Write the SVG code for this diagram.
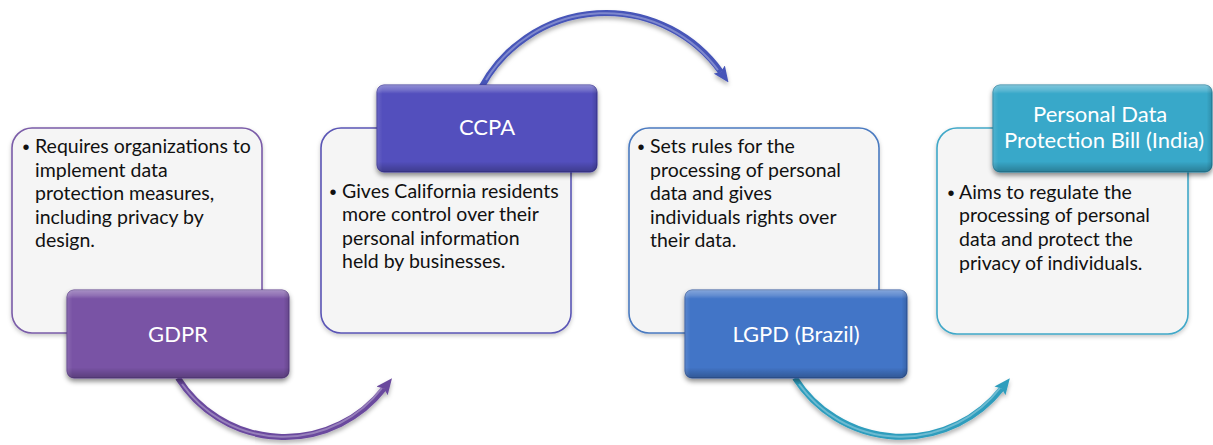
<svg xmlns="http://www.w3.org/2000/svg" width="1213" height="445" viewBox="0 0 1213 445">
  <defs>
    <style>
      .card { fill: #f5f5f5; stroke-width: 1.6; filter: url(#softShadow); }
      .body { font-family: Lato, "Liberation Sans", sans-serif; font-size: 19.5px; fill: #111111; }
      .bullet { font-family: "Liberation Sans", sans-serif; font-size: 20px; fill: #111111; text-anchor: middle; }
      .tag { stroke-width: 1; filter: url(#tagShadow); }
      .tagText { font-family: Lato, "Liberation Sans", sans-serif; font-size: 22px; fill: #ffffff; text-anchor: middle; }
      .bevelV { fill: url(#bevelV); }
      .bevelH { fill: url(#bevelH); }
      .arc { fill: none; stroke-width: 6; filter: url(#arcShadow); }
      .arcHi { fill: none; stroke-width: 2; stroke: #ffffff; stroke-opacity: 0.3; }
    </style>

    <filter id="softShadow" x="-10%" y="-10%" width="120%" height="125%">
      <feDropShadow dx="0" dy="2" stdDeviation="2" flood-color="#000000" flood-opacity="0.22"/>
    </filter>
    <filter id="tagShadow" x="-10%" y="-15%" width="120%" height="140%">
      <feDropShadow dx="0" dy="3" stdDeviation="2.5" flood-color="#000000" flood-opacity="0.45"/>
    </filter>
    <filter id="arcShadow" x="-20%" y="-30%" width="140%" height="160%">
      <feDropShadow dx="0" dy="3" stdDeviation="2" flood-color="#000000" flood-opacity="0.3"/>
    </filter>

    <!-- bevel overlays shared by all tag boxes -->
    <linearGradient id="bevelV" x1="0" y1="0" x2="0" y2="1">
      <stop offset="0" stop-color="#ffffff" stop-opacity="0.35"/>
      <stop offset="0.06" stop-color="#ffffff" stop-opacity="0.18"/>
      <stop offset="0.1" stop-color="#ffffff" stop-opacity="0"/>
      <stop offset="0.88" stop-color="#000000" stop-opacity="0"/>
      <stop offset="0.95" stop-color="#000000" stop-opacity="0.15"/>
      <stop offset="1" stop-color="#000000" stop-opacity="0.25"/>
    </linearGradient>
    <linearGradient id="bevelH" x1="0" y1="0" x2="1" y2="0">
      <stop offset="0" stop-color="#ffffff" stop-opacity="0.12"/>
      <stop offset="0.025" stop-color="#ffffff" stop-opacity="0"/>
      <stop offset="0.975" stop-color="#000000" stop-opacity="0"/>
      <stop offset="1" stop-color="#000000" stop-opacity="0.15"/>
    </linearGradient>

    <marker id="headPurple" markerUnits="userSpaceOnUse" viewBox="0 0 16 14" markerWidth="16" markerHeight="14" refX="3" refY="7" orient="auto">
      <path d="M0,0 L16,7 L0,14 L3,7 Z" fill="#6b4a9e"/>
    </marker>
    <marker id="headIndigo" markerUnits="userSpaceOnUse" viewBox="0 0 16 14" markerWidth="16" markerHeight="14" refX="3" refY="7" orient="auto">
      <path d="M0,0 L16,7 L0,14 L3,7 Z" fill="#4655b8"/>
    </marker>
    <marker id="headTeal" markerUnits="userSpaceOnUse" viewBox="0 0 16 14" markerWidth="16" markerHeight="14" refX="3" refY="7" orient="auto">
      <path d="M0,0 L16,7 L0,14 L3,7 Z" fill="#2e9dbd"/>
    </marker>
  </defs>

  <!-- curved arrows linking the steps -->
  <g id="connectors">
    <path class="arc" d="M178,378 A126,126 0 0 0 384,388.5" stroke="#6b4a9e" marker-end="url(#headPurple)"/>
    <path class="arcHi" d="M182,384 A124,124 0 0 0 382,388"/>

    <path class="arc" d="M481.6,87 A141.5,141.5 0 0 1 720.9,71.9" stroke="#4655b8" marker-end="url(#headIndigo)"/>
    <path class="arcHi" d="M486,80 A140,140 0 0 1 718,70"/>

    <path class="arc" d="M795,378 A127,127 0 0 0 1001.8,388.5" stroke="#2e9dbd" marker-end="url(#headTeal)"/>
    <path class="arcHi" d="M799,384 A125,125 0 0 0 1000,388"/>
  </g>

  <!-- GDPR -->
  <g id="node-gdpr">
    <rect class="card" x="12" y="128" width="250" height="205" rx="20" stroke="#7a5ca8"/>
    <text class="bullet" x="26" y="154">•</text>
    <text class="body">
      <tspan x="35" y="153">Requires organizations to</tspan>
      <tspan x="35" y="177">implement data</tspan>
      <tspan x="35" y="200">protection measures,</tspan>
      <tspan x="35" y="224">including privacy by</tspan>
      <tspan x="35" y="247">design.</tspan>
    </text>
    <rect class="tag" x="67" y="290" width="222" height="88" rx="7" fill="#7953a5" stroke="#5e3f8a"/>
    <rect class="bevelV" x="67" y="290" width="222" height="88" rx="7"/>
    <rect class="bevelH" x="67" y="290" width="222" height="88" rx="7"/>
    <text class="tagText" x="178" y="342">GDPR</text>
  </g>

  <!-- CCPA -->
  <g id="node-ccpa">
    <rect class="card" x="321" y="128" width="250" height="205" rx="20" stroke="#5a55b5"/>
    <rect class="tag" x="377" y="85" width="220" height="87" rx="7" fill="#5250bd" stroke="#3c379a"/>
    <rect class="bevelV" x="377" y="85" width="220" height="87" rx="7"/>
    <rect class="bevelH" x="377" y="85" width="220" height="87" rx="7"/>
    <text class="tagText" x="487" y="135">CCPA</text>
    <text class="bullet" x="333" y="199">•</text>
    <text class="body">
      <tspan x="342" y="198">Gives California residents</tspan>
      <tspan x="342" y="221">more control over their</tspan>
      <tspan x="342" y="245">personal information</tspan>
      <tspan x="342" y="268">held by businesses.</tspan>
    </text>
  </g>

  <!-- LGPD (Brazil) -->
  <g id="node-lgpd">
    <rect class="card" x="629" y="128" width="250" height="205" rx="20" stroke="#4a7ac0"/>
    <text class="bullet" x="641" y="154">•</text>
    <text class="body">
      <tspan x="650" y="153">Sets rules for the</tspan>
      <tspan x="650" y="177">processing of personal</tspan>
      <tspan x="650" y="200">data and gives</tspan>
      <tspan x="650" y="224">individuals rights over</tspan>
      <tspan x="650" y="247">their data.</tspan>
    </text>
    <rect class="tag" x="685" y="290" width="222" height="88" rx="7" fill="#4374c7" stroke="#30589e"/>
    <rect class="bevelV" x="685" y="290" width="222" height="88" rx="7"/>
    <rect class="bevelH" x="685" y="290" width="222" height="88" rx="7"/>
    <text class="tagText" x="796" y="342">LGPD (Brazil)</text>
  </g>

  <!-- Personal Data Protection Bill (India) -->
  <g id="node-pdp">
    <rect class="card" x="937" y="128" width="251" height="206" rx="20" stroke="#40a8c8"/>
    <rect class="tag" x="993" y="85" width="219" height="87" rx="7" fill="#37a8c9" stroke="#26809f"/>
    <rect class="bevelV" x="993" y="85" width="219" height="87" rx="7"/>
    <rect class="bevelH" x="993" y="85" width="219" height="87" rx="7"/>
    <text class="tagText">
      <tspan x="1103" y="122">Personal Data</tspan>
      <tspan x="1104" y="148">Protection Bill (India)</tspan>
    </text>
    <text class="bullet" x="951" y="200">•</text>
    <text class="body">
      <tspan x="959" y="199">Aims to regulate the</tspan>
      <tspan x="959" y="222">processing of personal</tspan>
      <tspan x="959" y="246">data and protect the</tspan>
      <tspan x="959" y="270">privacy of individuals.</tspan>
    </text>
  </g>
</svg>
